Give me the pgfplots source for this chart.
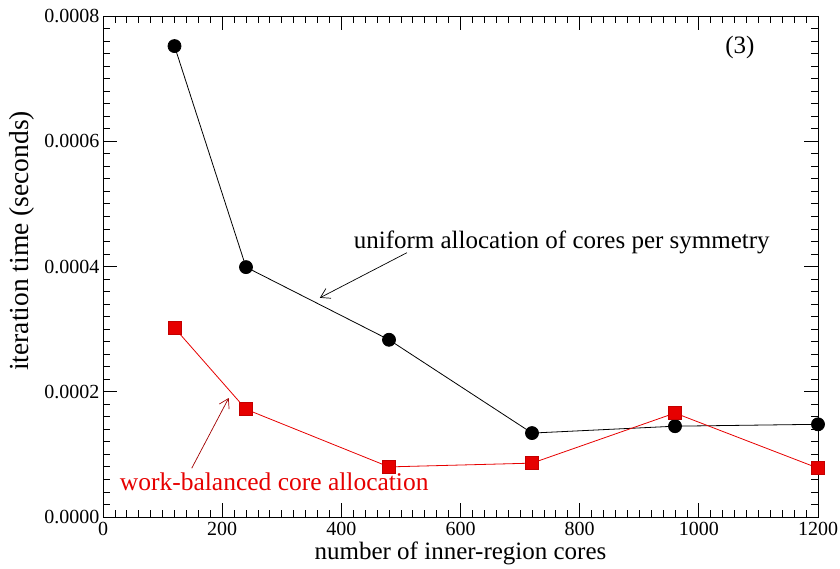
\documentclass[border=0pt]{standalone}
\usepackage{fontspec}
\setmainfont{Liberation Serif}
\usepackage{pgfplots}
\pgfplotsset{compat=1.18}
\usetikzlibrary{arrows.meta}
\definecolor{myred}{RGB}{230,0,0}
\begin{document}
\begin{tikzpicture}[x=1pt,y=1pt]
\begin{axis}[
  at={(103pt,52pt)}, anchor=south west,
  scale only axis, width=715pt, height=501pt,
  xmin=0, xmax=1200, ymin=0, ymax=0.0008,
  xtick={0,200,...,1200},
  ytick={0,0.0002,0.0004,0.0006,0.0008},
  minor x tick num=9, minor y tick num=9,
  tick align=inside,
  major tick length=14pt, minor tick length=7pt,
  tick style={black, line width=0.8pt},
  axis line style={line width=0.9pt},
  scaled y ticks=false,
  yticklabel style={/pgf/number format/fixed, /pgf/number format/fixed zerofill, /pgf/number format/precision=4},
  xticklabel style={/pgf/number format/1000 sep={}, anchor=base, yshift=-19pt, inner sep=0pt},
  /pgf/number format/assume math mode=true,
  ticklabel style={font=\rmfamily\fontsize{20}{22}\selectfont},
  xlabel={number of inner-region cores},
  ylabel={iteration time (seconds)},
  xlabel style={font=\rmfamily\fontsize{25}{27}\selectfont, at={(axis description cs:0.5,0)}, anchor=base, yshift=-42.5pt, inner sep=0pt},
  ylabel style={font=\rmfamily\fontsize{27.5}{29}\selectfont, at={(axis description cs:-0.1133,0.551)}, anchor=center},
  clip=false,
]
\addplot[black, line width=0.8pt, mark=*, mark size=6.5pt, mark options={fill=black}]
 coordinates {(120,0.000752) (240,0.000399) (480,0.000283) (720,0.000134) (960,0.000145) (1200,0.000148)};
\addplot[myred, line width=0.8pt, mark=square*, mark size=6.5pt, mark options={fill=myred, draw=myred!85!black}]
 coordinates {(120,0.000302) (240,0.000172) (480,0.00008) (720,0.000086) (960,0.000166) (1200,0.000078)};
\node[font=\rmfamily\fontsize{25}{26}\selectfont] at (axis cs:770,0.000439) {uniform allocation of cores per symmetry};
\draw[-{Straight Barb[length=9pt,width=11pt]}, line width=0.7pt] (axis cs:510,0.000422) -- (axis cs:364,0.00035);
\node[font=\rmfamily\fontsize{25.5}{26}\selectfont, text=myred, anchor=west, inner sep=0pt] at (axis cs:28,0.000056) {work-balanced core allocation};
\draw[-{Straight Barb[length=9pt,width=11pt]}, line width=0.7pt, myred!70!black] (axis cs:149,0.000078) -- (axis cs:211,0.00019);
\node[font=\rmfamily\fontsize{25}{26}\selectfont] at (axis cs:1069,0.00075) {(3)};
\end{axis}
\pgfresetboundingbox
\path (0,0) rectangle (840pt,569pt);
\end{tikzpicture}
\end{document}
